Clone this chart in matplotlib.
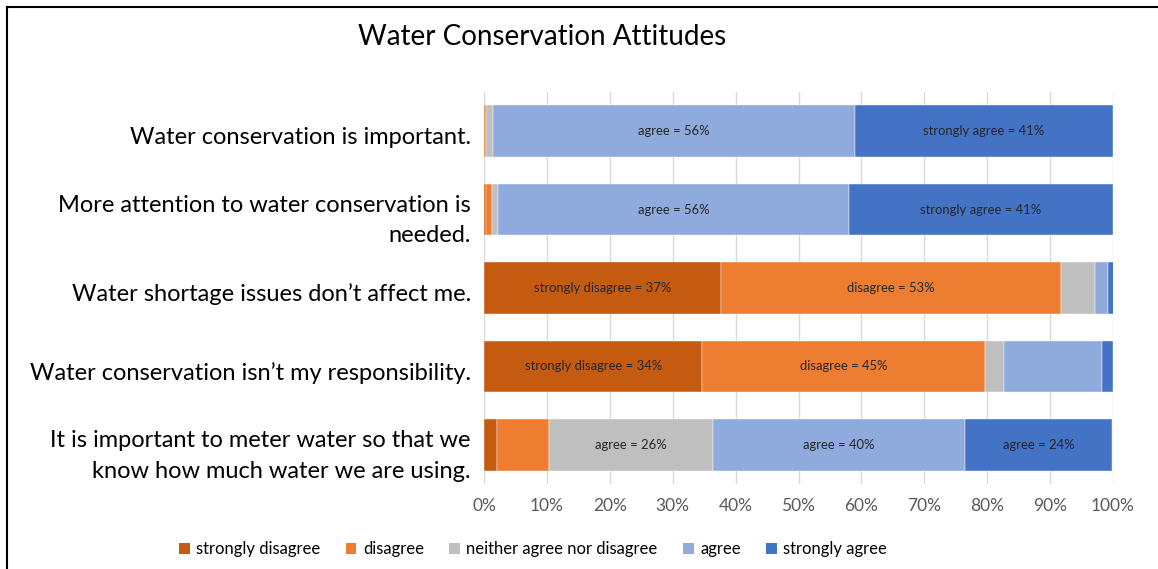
import matplotlib
matplotlib.use("Agg")
import matplotlib.pyplot as plt
import matplotlib.transforms as mtransforms
from matplotlib.lines import Line2D
from matplotlib.patches import Patch
import numpy as np

plt.rcParams['font.family'] = ['Lato', 'DejaVu Sans']

statements = [
    "Water conservation is important.",
    "More attention to water conservation is\nneeded.",
    "Water shortage issues don\u2019t affect me.",
    "Water conservation isn\u2019t my responsibility.",
    "It is important to meter water so that we\nknow how much water we are using.",
]
categories = ["strongly disagree", "disagree", "neither agree nor disagree",
              "agree", "strongly agree"]
strongly_disagree = [0.0, 0.3, 37.7, 34.7, 2.0]
disagree = [0.3, 1.0, 54.1, 45.0, 8.4]
neither = [1.1, 1.0, 5.4, 3.0, 26.0]
agree = [57.6, 55.7, 2.0, 15.6, 40.0]
strongly_agree = [41.0, 42.0, 1.0, 1.7, 23.5]
colors = ["#C55A11", "#ED7D31", "#BFBFBF", "#8FAADC", "#4472C4"]

# data labels: (row, category index, text)
bar_labels = [
    (0, 3, "agree = 56%"), (0, 4, "strongly agree = 41%"),
    (1, 3, "agree = 56%"), (1, 4, "strongly agree = 41%"),
    (2, 0, "strongly disagree = 37%"), (2, 1, "disagree = 53%"),
    (3, 0, "strongly disagree = 34%"), (3, 1, "disagree = 45%"),
    (4, 2, "agree = 26%"), (4, 3, "agree = 40%"), (4, 4, "agree = 24%"),
]
xticks = [0, 10, 20, 30, 40, 50, 60, 70, 80, 90, 100]

W, H = 1158, 569
fig = plt.figure(figsize=(W / 100, H / 100), dpi=100)
ax = fig.add_axes([484 / W, 1 - 484 / H, (1113 - 484) / W, (484 - 92) / H])

series = [strongly_disagree, disagree, neither, agree, strongly_agree]
y = np.arange(len(statements))
left = np.zeros(len(statements))
lefts = []
for vals, c, name in zip(series, colors, categories):
    vals = np.array(vals)
    ax.barh(y, vals, left=left, height=0.66, color=c, label=name, zorder=2,
            edgecolor='white', linewidth=0.3)
    lefts.append(left.copy())
    left = left + vals

for r, ci, txt in bar_labels:
    x = lefts[ci][r] + series[ci][r] / 2
    ax.text(x, r, txt, ha='center', va='center', fontsize=9.4, color='#262626',
            zorder=3)

ax.set_xlim(0, 100)
ax.set_ylim(len(statements) - 0.5, -0.5)
ax.set_xticks(xticks)
ax.set_xticklabels([f"{t}%" for t in xticks], fontsize=12.5, color='#595959')
ax.set_yticks(y)
ax.set_yticklabels(statements, fontsize=17, color='black', linespacing=1.55)
ax.tick_params(axis='x', length=0, pad=10)
ax.tick_params(axis='y', length=0, pad=9.5)
offset = mtransforms.ScaledTranslation(0, -0.045, fig.dpi_scale_trans)
for lab in ax.get_yticklabels():
    lab.set_transform(lab.get_transform() + offset)
for s in ax.spines.values():
    s.set_visible(False)
ax.grid(axis='x', color='#D9D9D9', linewidth=1, zorder=0)
ax.set_axisbelow(True)

fig.text(542 / W, 1 - 37 / H, "Water Conservation Attitudes", ha='center',
         va='center', fontsize=20, color='black')

handles = [Patch(facecolor=c, edgecolor='none') for c in colors]
fig.legend(handles, categories, loc='center', bbox_to_anchor=(533 / W, 1 - 549 / H),
           ncol=5, frameon=False, fontsize=12, handlelength=0.65, handleheight=0.65,
           handletextpad=0.4, columnspacing=1.5)

# outer frame (left and top edges visible)
fig.add_artist(Line2D([7 / W, 7 / W], [0, 1 - 7 / H], transform=fig.transFigure,
                      color='black', linewidth=1.5))
fig.add_artist(Line2D([7 / W, 1], [1 - 7 / H, 1 - 7 / H], transform=fig.transFigure,
                      color='black', linewidth=1.5))

fig.savefig("out.png", dpi=100)
